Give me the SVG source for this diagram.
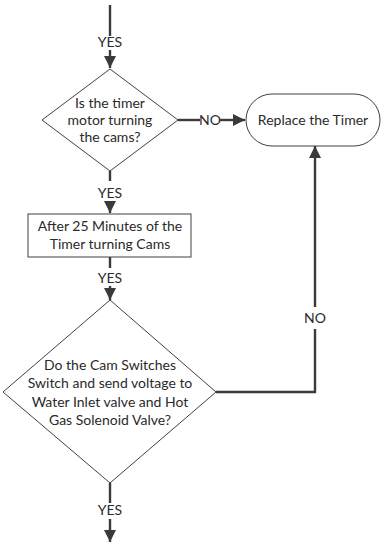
<svg xmlns="http://www.w3.org/2000/svg" width="387" height="545" viewBox="0 0 387 545">
  <defs>
    <marker id="arrow" viewBox="0 0 10 10" refX="10" refY="5" markerWidth="5" markerHeight="5" markerUnits="strokeWidth" orient="auto">
      <path d="M0,0 L10,5 L0,10 Z" fill="#3a3a3a"/>
    </marker>
    <style>
      .shape { fill: #ffffff; stroke: #404040; stroke-width: 1; }
      .conn { fill: none; stroke: #3a3a3a; stroke-width: 2.4; }
      text { font-family: "Lato", "Liberation Sans", sans-serif; font-size: 14px; fill: #2a2a2a; text-anchor: middle; }
    </style>
  </defs>

  <rect width="387" height="545" fill="#ffffff"/>

  <!-- connectors -->
  <g id="connectors">
    <line class="conn" x1="110" y1="5" x2="110" y2="36"/>
    <text x="110" y="47">YES</text>
    <line class="conn" x1="110" y1="50" x2="110" y2="68" marker-end="url(#arrow)"/>

    <line class="conn" x1="178" y1="120" x2="200" y2="120"/>
    <text x="210" y="125">NO</text>
    <line class="conn" x1="220" y1="120" x2="245" y2="120" marker-end="url(#arrow)"/>

    <line class="conn" x1="110" y1="171" x2="110" y2="181"/>
    <text x="110" y="198">YES</text>
    <line class="conn" x1="110" y1="201" x2="110" y2="213" marker-end="url(#arrow)"/>

    <line class="conn" x1="110" y1="257" x2="110" y2="268"/>
    <text x="110" y="283">YES</text>
    <line class="conn" x1="110" y1="286" x2="110" y2="300" marker-end="url(#arrow)"/>

    <polyline class="conn" points="216,392 315,392 315,329"/>
    <text x="315" y="323">NO</text>
    <line class="conn" x1="315" y1="307" x2="315" y2="146" marker-end="url(#arrow)"/>

    <line class="conn" x1="110" y1="483" x2="110" y2="503"/>
    <text x="110" y="515">YES</text>
    <line class="conn" x1="110" y1="519" x2="110" y2="542" marker-end="url(#arrow)"/>
  </g>

  <g id="timer-motor-check">
    <polygon class="shape" points="110,69 178,120 110,171 42,120"/>
    <text x="110" y="108">Is the timer</text>
    <text x="110" y="125">motor turning</text>
    <text x="110" y="142">the cams?</text>
  </g>

  <g id="replace-timer">
    <rect class="shape" x="246" y="94" width="134" height="52" rx="26" ry="26"/>
    <text x="313" y="125">Replace the Timer</text>
  </g>

  <g id="after-25-minutes">
    <rect class="shape" x="28" y="214" width="163" height="43"/>
    <text x="110" y="231">After 25 Minutes of the</text>
    <text x="110" y="249">Timer turning Cams</text>
  </g>

  <g id="cam-switch-check">
    <polygon class="shape" points="110,300 216,392 110,483 3,392"/>
    <text x="110" y="370">Do the Cam Switches</text>
    <text x="110" y="388">Switch and send voltage to</text>
    <text x="110" y="407">Water Inlet valve and Hot</text>
    <text x="110" y="425">Gas Solenoid Valve?</text>
  </g>
</svg>
